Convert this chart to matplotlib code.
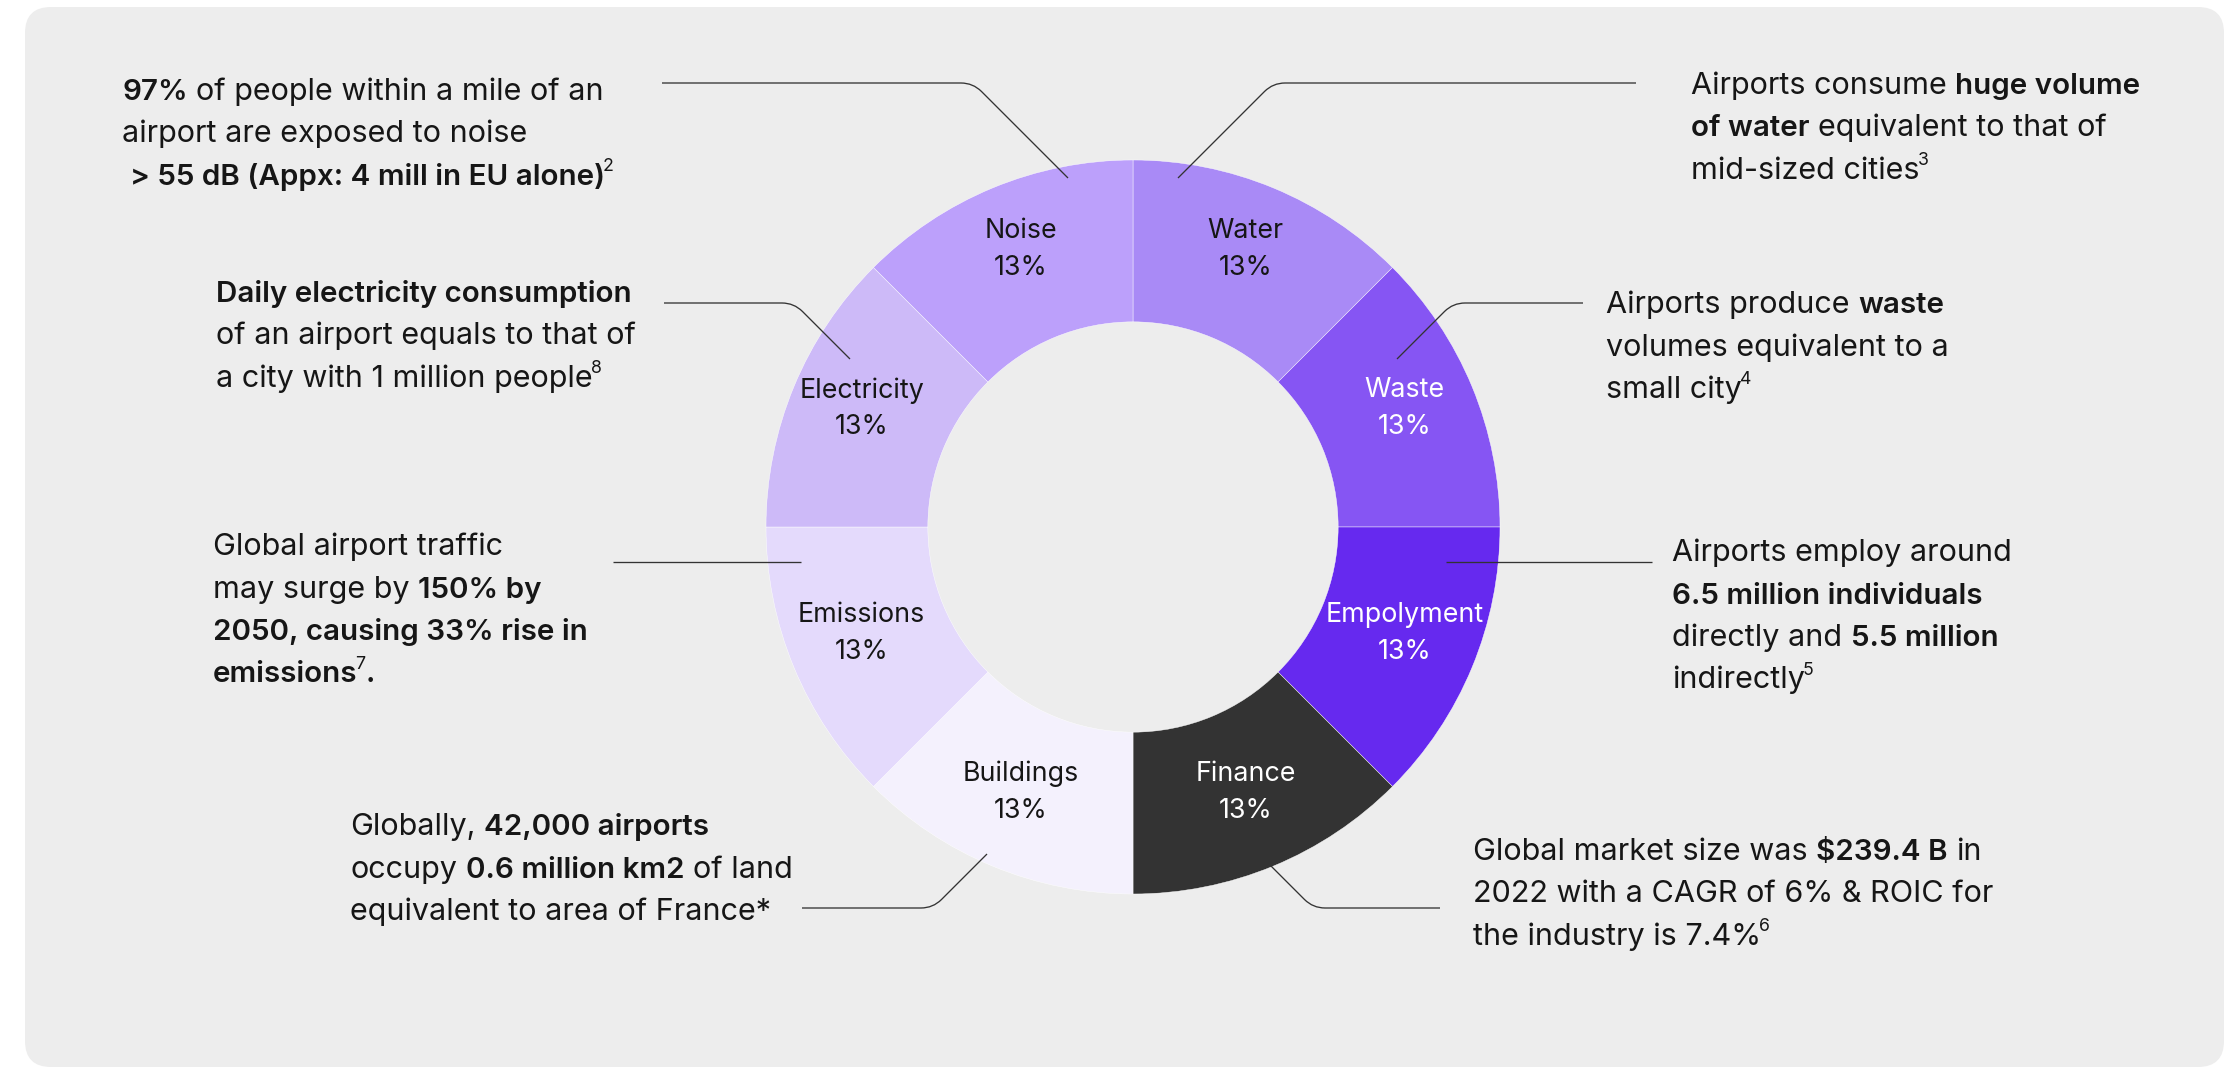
import matplotlib
matplotlib.use("Agg")
import matplotlib.pyplot as plt
from matplotlib.patches import FancyBboxPatch, PathPatch
from matplotlib.path import Path
import math

# ---------------- data ----------------
categories = ["Water", "Waste", "Empolyment", "Finance",
              "Buildings", "Emissions", "Electricity", "Noise"]
values = [1, 1, 1, 1, 1, 1, 1, 1]

# annotation texts: list of lines, each line a list of (text, style) segments
# style: R = regular, B = bold, S = superscript
note_water = [[("Airports consume ", "R"), ("huge volume", "B")],
              [("of water", "B"), (" equivalent to that of", "R")],
              [("mid-sized cities", "R"), ("3", "S")]]
note_waste = [[("Airports produce ", "R"), ("waste", "B")],
              [("volumes equivalent to a", "R")],
              [("small city", "R"), ("4", "S")]]
note_employment = [[("Airports employ around", "R")],
                   [("6.5 million individuals", "B")],
                   [("directly and ", "R"), ("5.5 million", "B")],
                   [("indirectly", "R"), ("5", "S")]]
note_finance = [[("Global market size was ", "R"), ("$239.4 B", "B"), (" in", "R")],
                [("2022 with a CAGR of 6% & ROIC for", "R")],
                [("the industry is 7.4%", "R"), ("6", "S")]]
note_buildings = [[("Globally, ", "R"), ("42,000 airports", "B")],
                  [("occupy ", "R"), ("0.6 million km2", "B"), (" of land", "R")],
                  [("equivalent to area of France*", "R")]]
note_emissions = [[("Global airport traffic", "R")],
                  [("may surge by ", "R"), ("150% by", "B")],
                  [("2050, causing 33% rise in", "B")],
                  [("emissions", "B"), ("7", "S"), (".", "B")]]
note_electricity = [[("Daily electricity consumption", "B")],
                    [("of an airport equals to that of", "R")],
                    [("a city with 1 million people", "R"), ("8", "S")]]
note_noise = [[("97%", "B"), (" of people within a mile of an", "R")],
              [("airport are exposed to noise", "R")],
              [(" > 55 dB (Appx: 4 mill in EU alone)", "B"), ("2", "S")]]
notes = [note_water, note_waste, note_employment, note_finance,
         note_buildings, note_emissions, note_electricity, note_noise]

# ---------------- styles / layout ----------------
W, H = 2233, 1068
slice_colors = ["#a98af6", "#8655f3", "#6629ef", "#333333",
                "#f4f1fd", "#e4dafc", "#cdbaf8", "#bca0fb"]
label_colors = ["#161616", "#ffffff", "#ffffff", "#ffffff",
                "#161616", "#161616", "#161616", "#161616"]
panel_color = "#ededed"
ink = "#161616"
FONT = ["Inter", "DejaVu Sans"]
plt.rcParams["font.family"] = FONT

cx, cy, R = 1133, 527, 367         # donut centre / radius in pixels
ring_width = 0.441
note_size = 22
bold_size = 21.3
label_size = 19.3
line_gap = 42.5

# note anchor: (left x, first baseline y)
note_pos = [(1691, 94), (1606, 313), (1672, 561), (1473, 860),
            (350, 835), (213, 555), (216, 302), (122, 100)]
# leader lines: start inside slice, bend point, end point
leaders = [((1178, 178), (1273, 83), (1636, 83)),
           ((1397, 359), (1453, 303), (1583, 303)),
           ((1446, 562), None, (1652, 562)),
           ((1259, 854), (1313, 908), (1440, 908)),
           ((987, 854), (933, 908), (802, 908)),
           ((801, 562), None, (613, 562)),
           ((850, 359), (794, 303), (664, 303)),
           ((1068, 178), (973, 83), (662, 83))]

fig = plt.figure(figsize=(W / 100, H / 100), dpi=100, facecolor="white")

# background panel
ax_bg = fig.add_axes([0, 0, 1, 1])
ax_bg.set_xlim(0, W); ax_bg.set_ylim(H, 0); ax_bg.axis("off")
ax_bg.add_patch(FancyBboxPatch((25, 7), 2199, 1060,
                               boxstyle="round,pad=0,rounding_size=26",
                               facecolor=panel_color, edgecolor="none"))

# donut
ax_pie = fig.add_axes([(cx - R) / W, (H - cy - R) / H, 2 * R / W, 2 * R / H])
wedges, _ = ax_pie.pie(values, colors=slice_colors, startangle=90,
                       counterclock=False, radius=1,
                       wedgeprops=dict(width=ring_width, edgecolor="#ffffff",
                                       linewidth=0.3))
ax_pie.set_xlim(-1, 1); ax_pie.set_ylim(-1, 1); ax_pie.set_aspect("auto")
ax_pie.axis("off")

total = sum(values)
r_lab = 0.80
for w, name, v, lc in zip(wedges, categories, values, label_colors):
    mid = math.radians((w.theta1 + w.theta2) / 2)
    x, y = r_lab * math.cos(mid), r_lab * math.sin(mid)
    pct = f"{int(v / total * 100 + 0.5)}%"
    ax_pie.annotate(name, (x, y), xytext=(0, 17.5), textcoords="offset points",
                    ha="center", va="center", fontsize=label_size, color=lc)
    ax_pie.annotate(pct, (x, y), xytext=(0, -9), textcoords="offset points",
                    ha="center", va="center", fontsize=label_size, color=lc)

# overlay for notes and leader lines
ax0 = fig.add_axes([0, 0, 1, 1], facecolor="none")
ax0.set_xlim(0, W); ax0.set_ylim(H, 0); ax0.axis("off")
renderer = fig.canvas.get_renderer()


def text_w(s, **kw):
    t = ax0.text(0, 0, s, **kw)
    bb = t.get_window_extent(renderer)
    t.remove()
    return bb.width


styles = {"R": dict(fontsize=note_size, fontweight="normal"),
          "B": dict(fontsize=bold_size, fontweight="semibold"),
          "S": dict(fontsize=note_size * 0.58, fontweight="normal")}
space_w = {k: text_w("a a", **st) - text_w("aa", **st) for k, st in styles.items()}

for lines, (x0, y0) in zip(notes, note_pos):
    for i, line in enumerate(lines):
        x = x0
        yb = y0 + i * line_gap
        for seg, st in line:
            lead = len(seg) - len(seg.lstrip(" "))
            trail = len(seg) - len(seg.rstrip(" "))
            core = seg.strip(" ")
            x += lead * space_w[st]
            if st == "S":
                x -= 2
            y = yb - (0.45 * note_size * 100 / 72 if st == "S" else 0)
            ax0.text(x, y, core, ha="left", va="baseline", color=ink, **styles[st])
            x += text_w(core, **styles[st])
            x += trail * space_w[st]

# leader lines with rounded corner
rc = 12


def toward(a, b, d):
    dx, dy = b[0] - a[0], b[1] - a[1]
    L = math.hypot(dx, dy)
    return (a[0] + dx / L * d, a[1] + dy / L * d)


for p0, p1, p2 in leaders:
    if p1 is None:
        verts = [p0, p2]
        codes = [Path.MOVETO, Path.LINETO]
    else:
        A = toward(p1, p0, rc)
        B = toward(p1, p2, rc)
        verts = [p0, A, p1, B, p2]
        codes = [Path.MOVETO, Path.LINETO, Path.CURVE3, Path.CURVE3, Path.LINETO]
    ax0.add_patch(PathPatch(Path(verts, codes), facecolor="none",
                            edgecolor="#333333", linewidth=0.95))

fig.savefig("out.png", dpi=100, facecolor="white")
